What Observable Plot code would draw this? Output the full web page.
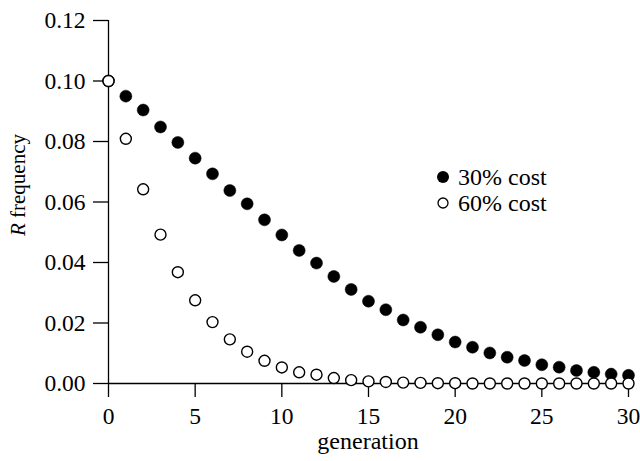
<!DOCTYPE html>
<html><head><meta charset="utf-8">
<script src="https://cdn.jsdelivr.net/npm/d3@7"></script>
<script src="https://cdn.jsdelivr.net/npm/@observablehq/plot@0.6"></script>
<style>
body{margin:0;background:#fff;}
#chart{position:relative;width:640px;height:461px;font-family:'Liberation Serif','Times New Roman',serif;}
#legend{position:absolute;left:436px;top:164px;font-size:24px;line-height:26px;color:#000;font-family:'Liberation Serif','Times New Roman',serif;}
#legend .row{display:flex;align-items:center;white-space:nowrap;}
#legend svg{margin-right:8px;}
</style></head><body><div id="chart"><div id="legend"></div></div>
<script>
const generations = [0,1,2,3,4,5,6,7,8,9,10,11,12,13,14,15,16,17,18,19,20,21,22,23,24,25,26,27,28,29,30];
const cost30 = [0.100,0.095,0.0904,0.0848,0.0797,0.0745,0.0693,0.0638,0.0594,0.0541,0.0491,0.0440,0.0398,0.0354,0.0311,0.0272,0.0244,0.0210,0.0186,0.0161,0.0137,0.0120,0.0101,0.0087,0.0076,0.0062,0.0054,0.0043,0.0037,0.0031,0.0027];
const cost60 = [0.100,0.0809,0.0642,0.0492,0.0368,0.0275,0.0203,0.0146,0.0105,0.0075,0.0053,0.0037,0.0029,0.0018,0.0011,0.0007,0.0005,0.0003,0.0002,0.0001,0.0001,0,0,0,0,0,0,0,0,0,0];
const seriesNames = ["30% cost", "60% cost"];
const xTicks = [0,5,10,15,20,25,30];
const yTicks = [0.00,0.02,0.04,0.06,0.08,0.10,0.12];
const xLabel = "generation";
const yLabelItalic = "R";
const yLabelRest = " frequency";

const data30 = generations.map((g,i)=>({g, v: cost30[i]}));
const data60 = generations.map((g,i)=>({g, v: cost60[i]}));

const serif = "'Liberation Serif','Times New Roman',serif";
const chart = Plot.plot({
  width: 640, height: 461,
  marginLeft: 108, marginRight: 12, marginTop: 20, marginBottom: 78,
  style: {fontFamily: serif, fontSize: "23.5px", color: "#000", background: "#fff"},
  x: {domain: [0,30]},
  y: {domain: [0,0.12]},
  marks: [
    Plot.axisX({ticks: xTicks, tickSize: 14, tickPadding: 10, tickFormat: d=>String(d), label: null, fontSize: 23.5, strokeWidth: 1.3}),
    Plot.axisY({ticks: yTicks, tickSize: 15, tickPadding: 8, tickFormat: d3.format(".2f"), label: null, fontSize: 23.5, strokeWidth: 1.3}),
    Plot.ruleY([0], {x1: 0, x2: 30, stroke: "#000", strokeWidth: 1.3}),
    Plot.ruleX([0], {y1: 0, y2: 0.12, stroke: "#000", strokeWidth: 1.3}),
    Plot.dot(data30, {x: "g", y: "v", r: 6, fill: "#000", stroke: "#000", strokeWidth: 0.5}),
    Plot.dot(data60, {x: "g", y: "v", r: 5.5, fill: "#fff", stroke: "#000", strokeWidth: 1.4})
  ]
});
document.getElementById("chart").prepend(chart);

const svg = d3.select(chart);
const xs = chart.scale("x");
svg.append("text")
  .attr("x", (xs.apply(0)+xs.apply(30))/2)
  .attr("y", 449)
  .attr("text-anchor", "middle")
  .style("font-family", serif)
  .attr("font-size", 24)
  .attr("fill", "#000")
  .text(xLabel);
const yl = svg.append("text")
  .attr("transform", `translate(25,185) rotate(-90)`)
  .attr("text-anchor", "middle")
  .style("font-family", serif)
  .attr("font-size", 21)
  .attr("fill", "#000");
yl.append("tspan").attr("font-style","italic").text(yLabelItalic);
yl.append("tspan").text(yLabelRest);

const legend = d3.select("#legend");
seriesNames.forEach((name,i)=>{
  const row = legend.append("div").attr("class","row");
  const s = row.append("svg").attr("width",14).attr("height",14);
  if (i===0) s.append("circle").attr("cx",7).attr("cy",7).attr("r",6).attr("fill","#000");
  else s.append("circle").attr("cx",7).attr("cy",7).attr("r",5).attr("fill","#fff").attr("stroke","#000").attr("stroke-width",1.3);
  row.append("span").text(name);
});
</script>
</body></html>
